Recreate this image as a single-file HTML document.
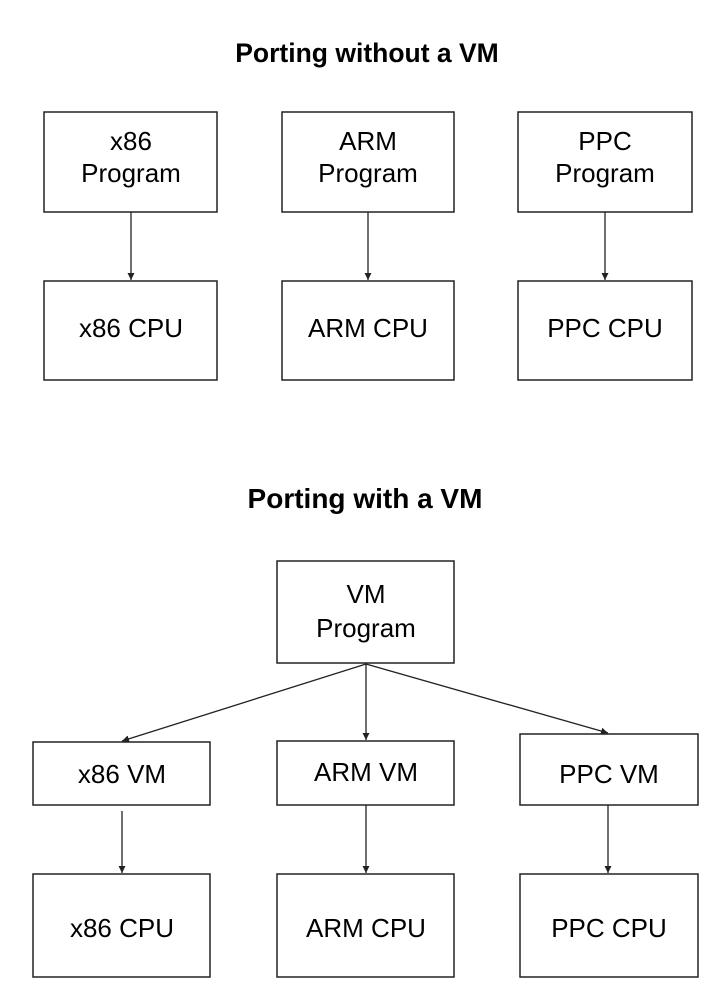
<!DOCTYPE html>
<html><head><style>
html,body{margin:0;padding:0;background:#fff;}
svg{display:block;}
text{font-family:"Liberation Sans",Arial,sans-serif;fill:#000;}
.t{font-size:26px;}
.h{font-size:28px;font-weight:bold;}
rect{fill:#fff;stroke:#222;stroke-width:1.5;}
line{stroke:#222;stroke-width:1.3;}
</style></head><body>
<svg width="724" height="1006" viewBox="0 0 724 1006" xmlns="http://www.w3.org/2000/svg">
<defs>
<marker id="a" markerWidth="8" markerHeight="8" refX="7" refY="4" orient="auto" markerUnits="userSpaceOnUse">
<path d="M0,0.5 L7,4 L0,7.5 Z" fill="#222"/>
</marker>
</defs>
<text class="h" x="367" y="62" text-anchor="middle" style="font-size:26.5px">Porting without a VM</text>
<rect x="44" y="112" width="173" height="100"/>
<rect x="282" y="112" width="172" height="100"/>
<rect x="518" y="112" width="174" height="100"/>
<rect x="44" y="281" width="173" height="99"/>
<rect x="282" y="281" width="172" height="99"/>
<rect x="518" y="281" width="174" height="99"/>
<text class="t" x="131" y="150" text-anchor="middle">x86</text>
<text class="t" x="131" y="182" text-anchor="middle">Program</text>
<text class="t" x="368" y="150" text-anchor="middle">ARM</text>
<text class="t" x="368" y="182" text-anchor="middle">Program</text>
<text class="t" x="605" y="150" text-anchor="middle">PPC</text>
<text class="t" x="605" y="182" text-anchor="middle">Program</text>
<text class="t" x="131" y="337" text-anchor="middle">x86 CPU</text>
<text class="t" x="368" y="337" text-anchor="middle">ARM CPU</text>
<text class="t" x="605" y="337" text-anchor="middle">PPC CPU</text>
<line x1="131" y1="212" x2="131" y2="280" marker-end="url(#a)"/>
<line x1="368" y1="212" x2="368" y2="280" marker-end="url(#a)"/>
<line x1="605" y1="212" x2="605" y2="280" marker-end="url(#a)"/>

<text class="h" x="365" y="508" text-anchor="middle">Porting with a VM</text>
<rect x="277" y="561" width="177" height="102"/>
<text class="t" x="366" y="603" text-anchor="middle">VM</text>
<text class="t" x="366" y="637" text-anchor="middle">Program</text>
<rect x="33" y="742" width="177" height="63"/>
<rect x="277" y="741" width="177" height="64"/>
<rect x="520" y="734" width="178" height="71"/>
<text class="t" x="122" y="783" text-anchor="middle">x86 VM</text>
<text class="t" x="366" y="781" text-anchor="middle">ARM VM</text>
<text class="t" x="609" y="783" text-anchor="middle">PPC VM</text>
<rect x="33" y="874" width="177" height="103"/>
<rect x="277" y="874" width="177" height="103"/>
<rect x="520" y="874" width="178" height="103"/>
<text class="t" x="122" y="937" text-anchor="middle">x86 CPU</text>
<text class="t" x="366" y="937" text-anchor="middle">ARM CPU</text>
<text class="t" x="609" y="937" text-anchor="middle">PPC CPU</text>
<line x1="366" y1="664" x2="122" y2="741" marker-end="url(#a)"/>
<line x1="366" y1="664" x2="366" y2="740" marker-end="url(#a)"/>
<line x1="366" y1="664" x2="608" y2="733" marker-end="url(#a)"/>
<line x1="122" y1="811" x2="122" y2="873" marker-end="url(#a)"/>
<line x1="366" y1="805" x2="366" y2="873" marker-end="url(#a)"/>
<line x1="608" y1="805" x2="608" y2="873" marker-end="url(#a)"/>
</svg>
</body></html>
